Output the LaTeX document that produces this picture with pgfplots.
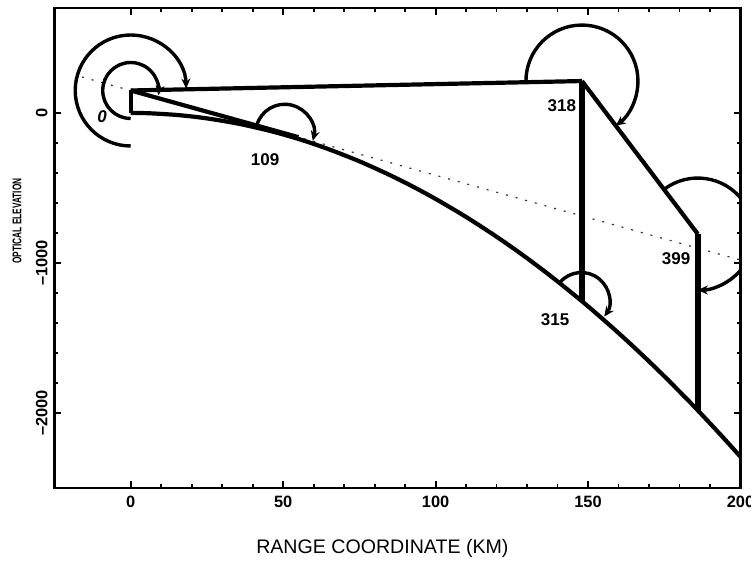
\documentclass[border=0pt]{standalone}
\usepackage{fontspec}
\setmainfont{Liberation Sans}
\usepackage{graphicx}
\usepackage{pgfplots}
\pgfplotsset{compat=1.18}
\usetikzlibrary{arrows.meta}
\tikzset{
  myarc/.style={black, line width=1.7pt, -{Stealth[length=5pt,width=4.5pt]}},
  mylab/.style={font=\fontsize{8.5}{9}\selectfont\bfseries},
}
\begin{document}
\begin{tikzpicture}
\begin{axis}[
  width=343pt, height=240pt, scale only axis,
  xmin=-25, xmax=200, ymin=-2500, ymax=700,
  xtick={0,50,100,150,200},
  xticklabels={0,50,100,150,200},
  ytick={-2000,-1000,0},
  yticklabels={\textendash2000,\textendash1000,0},
  minor x tick num=4, minor y tick num=4,
  major tick length=3.5pt, minor tick length=2pt,
  tick style={line width=0.9pt, black},
  axis line style={line width=1.2pt},
  ticklabel style={font=\fontsize{8.2}{9}\selectfont\bfseries, inner sep=0pt},
  xticklabel style={anchor=north},
  xticklabel shift=4pt,
  yticklabel style={rotate=90, anchor=south},
  yticklabel shift=3.3pt,
  xlabel={RANGE COORDINATE (KM)},
  xlabel style={font=\fontsize{9.8}{11}\selectfont, at={(axis description cs:0.478,-0.125)}, anchor=center},
  ylabel={\scalebox{0.66}[1]{OPTICAL ELEVATION}},
  ylabel style={font=\fontsize{6.3}{7}\selectfont\bfseries, at={(axis description cs:-0.0547,0.556)}, anchor=center},
]
% dotted straight ray
\addplot[black!80, line width=0.6pt, dash pattern=on 1pt off 4pt] coordinates {(-16,240) (200,-980)};
% earth surface
\addplot[black, line width=2.1pt, smooth] coordinates {
(0,0) (5,-1) (10,-6) (15,-13) (20,-23) (25,-36) (30,-52) (35,-70) (40,-92) (45,-116)
(50,-143) (55,-173) (60,-206) (65,-242) (70,-281) (75,-322) (80,-367) (85,-414) (90,-464)
(95,-517) (100,-573) (105,-632) (110,-693) (115,-758) (120,-825) (125,-895) (130,-968)
(135,-1044) (140,-1123) (145,-1205) (150,-1289) (155,-1377) (160,-1467) (165,-1560)
(170,-1656) (175,-1755) (180,-1857) (185,-1961) (190,-2069) (195,-2179) (200,-2292)};
% tower
\addplot[black, line width=2.1pt] coordinates {(0,0) (0,150)};
% tangent ray
\addplot[black, line width=2.1pt] coordinates {(0,150) (55,-161)};
% upper ray to 318
\addplot[black, line width=2.1pt] coordinates {(0,150) (148,213)};
% vertical at 318
\addplot[black, line width=2.7pt] coordinates {(148,213) (148,-1255)};
% diagonal 318 -> 399
\addplot[black, line width=2.1pt] coordinates {(148,213) (186,-807)};
% vertical at 399
\addplot[black, line width=2.7pt] coordinates {(186,-807) (186,-1982)};
% arcs
\draw[myarc] (axis cs:0,150) ++(-90:14pt) arc[start angle=-90, end angle=-370, radius=14pt];
\draw[myarc] (axis cs:0,150) ++(-90:27.75pt) arc[start angle=-90, end angle=-358, radius=27.75pt];
\draw[myarc] (axis cs:148,213) ++(180:28pt) arc[start angle=180, end angle=-53, radius=28pt];
\draw[myarc] (axis cs:186,-807) ++(127:28pt) arc[start angle=127, end angle=-90, radius=28pt];
\draw[myarc] (axis cs:50.5,-135) ++(165:14.5pt) arc[start angle=165, end angle=-15, radius=14.5pt];
\draw[myarc] (axis cs:147.8,-1250) ++(140:14pt) arc[start angle=140, end angle=-35, radius=14pt];
% labels
\node[font=\fontsize{8.5}{9}\selectfont\bfseries\itshape] at (axis cs:-9.4,-25) {0};
\node[mylab] at (axis cs:44.1,-313) {109};
\node[mylab] at (axis cs:141.4,47) {318};
\node[mylab] at (axis cs:178.9,-969) {399};
\node[mylab] at (axis cs:139.2,-1380) {315};
\end{axis}
\pgfresetboundingbox
\path[use as bounding box] (current axis.south west) ++(-27.25pt,-37pt) rectangle ++(375.5pt,281pt);
\end{tikzpicture}
\end{document}
